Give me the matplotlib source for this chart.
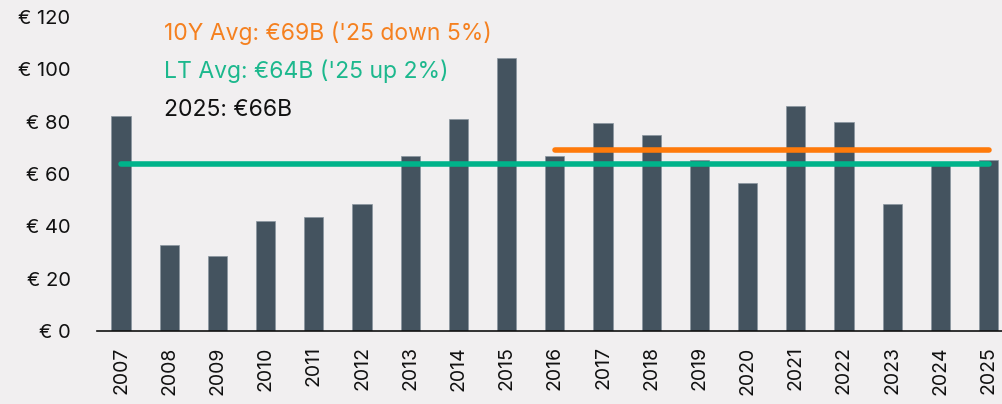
import numpy as np
import matplotlib.pyplot as plt

plt.rcParams['font.family'] = ['Inter', 'DejaVu Sans']

## data

years = ['2007', '2008', '2009', '2010', '2011', '2012', '2013', '2014', '2015', '2016',
         '2017', '2018', '2019', '2020', '2021', '2022', '2023', '2024', '2025']
values = [82, 33, 28.5, 42, 43.5, 48.5, 67, 81, 104.5, 67,
          79.5, 75, 65.5, 56.5, 86, 80, 48.5, 64, 65.5]
lt_avg = 64
avg_10y = 69
yticks = [0, 20, 40, 60, 80, 100, 120]

bg = '#f1eff0'
bar_col = '#44535f'
orange = '#ff7a0a'
green = '#00b38a'

fig = plt.figure(figsize=(10.03, 4.04), dpi=100, facecolor=bg)
ax = fig.add_axes([0.0967, 0.1807, 0.9033, 0.7773], facecolor=bg)

x = np.arange(len(years))
ax.bar(x, values, width=0.4, color=bar_col, edgecolor='#8a959f', linewidth=0.5, zorder=2)

# long-term average across all years, 10Y average from 2016
ax.plot([x[0], x[-1]], [lt_avg, lt_avg], color=green, lw=4, solid_capstyle='round', zorder=3)
ax.plot([x[9], x[-1]], [avg_10y, avg_10y], color=orange, lw=4, solid_capstyle='round', zorder=3)

ax.text(0.9, 113.8, "10Y Avg: €69B ('25 down 5%)", color='#f5801f', fontsize=16.5, va='center')
ax.text(0.9, 99.2, "LT Avg: €64B ('25 up 2%)", color='#1cb88d', fontsize=16.5, va='center')
ax.text(0.9, 84.6, "2025: €66B", color='#111111', fontsize=16.5, va='center')

ax.set_xlim(-0.5, 18.3)
ax.set_ylim(0, 120)
ax.set_xticks(x)
ax.set_xticklabels(years, rotation=90, fontsize=14, color='#111111')
ax.set_yticks(yticks)
ax.set_yticklabels(['€ %d' % v for v in yticks], fontsize=14.5, color='#111111')
ax.tick_params(axis='both', length=0)
ax.tick_params(axis='y', pad=19)
ax.tick_params(axis='x', pad=11)

for s in ['top', 'right', 'left']:
    ax.spines[s].set_visible(False)
ax.spines['bottom'].set_color('#111111')
ax.spines['bottom'].set_linewidth(1.2)

plt.savefig('out.png', dpi=100, facecolor=bg)
